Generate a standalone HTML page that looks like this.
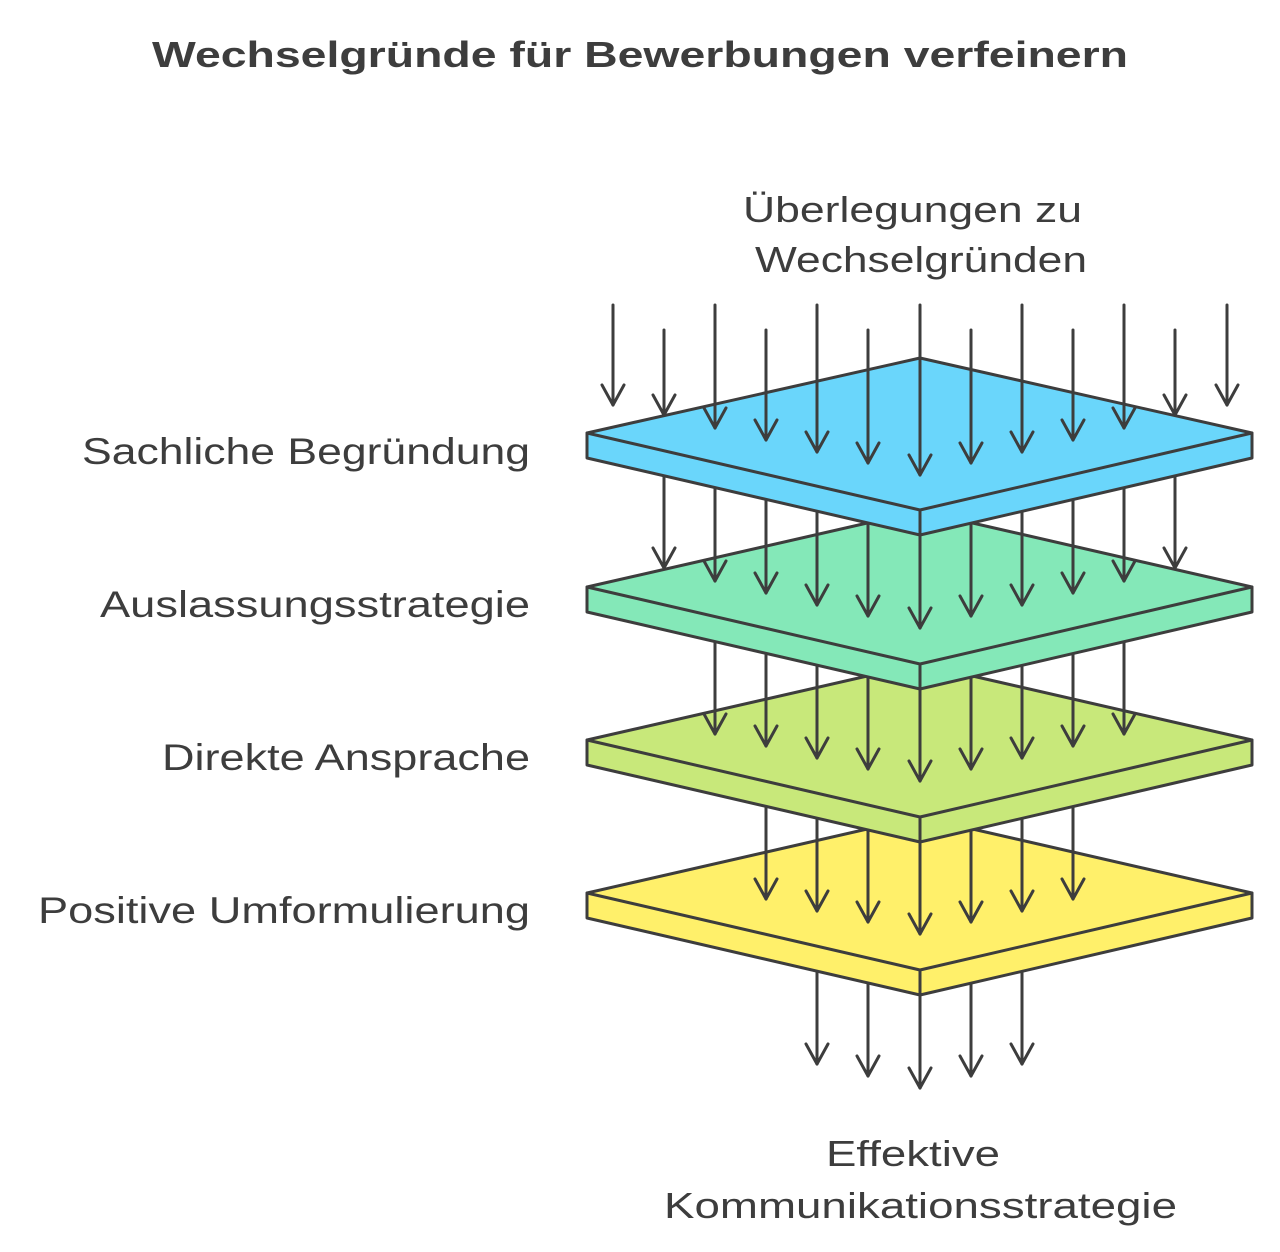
<!DOCTYPE html>
<html><head><meta charset="utf-8"><style>
html,body{margin:0;padding:0;background:#fff;}
svg{display:block;}
text{font-family:"Liberation Sans","DejaVu Sans",sans-serif;fill:#3d3d3d;}
</style></head><body>
<svg width="1280" height="1252" viewBox="0 0 1280 1252" xmlns="http://www.w3.org/2000/svg">
<defs>
<g id="ah"><path d="M-11,-20 L0,0 L11,-20" fill="none" stroke="#3d3d3d" stroke-width="3" stroke-linecap="round" stroke-linejoin="round"/></g>
</defs>
<text x="152" y="67" font-size="36" font-weight="bold" textLength="976" lengthAdjust="spacingAndGlyphs">Wechselgründe für Bewerbungen verfeinern</text>
<text x="743" y="222" font-size="36" textLength="339" lengthAdjust="spacingAndGlyphs">Überlegungen zu</text>
<text x="755" y="272" font-size="36" textLength="332" lengthAdjust="spacingAndGlyphs">Wechselgründen</text>
<text x="826" y="1166" font-size="36" textLength="174" lengthAdjust="spacingAndGlyphs">Effektive</text>
<text x="664" y="1218" font-size="36" textLength="513" lengthAdjust="spacingAndGlyphs">Kommunikationsstrategie</text>
<g font-size="37" lengthAdjust="spacingAndGlyphs">
<text x="82" y="464" textLength="448" lengthAdjust="spacingAndGlyphs">Sachliche Begründung</text>
<text x="100" y="617" textLength="430" lengthAdjust="spacingAndGlyphs">Auslassungsstrategie</text>
<text x="162" y="770" textLength="368" lengthAdjust="spacingAndGlyphs">Direkte Ansprache</text>
<text x="38" y="923" textLength="492" lengthAdjust="spacingAndGlyphs">Positive Umformulierung</text>
</g>
<g id="all" stroke="#3d3d3d" stroke-width="3" stroke-linejoin="round" stroke-linecap="round">
<g fill="none">
<line x1="817" y1="950" x2="817" y2="1064"/><use href="#ah" x="817" y="1064"/>
<line x1="868" y1="950" x2="868" y2="1076"/><use href="#ah" x="868" y="1076"/>
<line x1="920" y1="950" x2="920" y2="1088"/><use href="#ah" x="920" y="1088"/>
<line x1="971" y1="950" x2="971" y2="1076"/><use href="#ah" x="971" y="1076"/>
<line x1="1022" y1="950" x2="1022" y2="1064"/><use href="#ah" x="1022" y="1064"/>
</g>
<path d="M587,893 L920,817 L1252,893 L1252,918 L920,995 L587,918 Z" fill="#fff06a"/>
<path d="M587,893 L920,970 L1252,893 M920,970 L920,995" fill="none"/>
<g fill="none">
<line x1="766" y1="780" x2="766" y2="899"/><use href="#ah" x="766" y="899"/>
<line x1="817" y1="780" x2="817" y2="911"/><use href="#ah" x="817" y="911"/>
<line x1="868" y1="780" x2="868" y2="922"/><use href="#ah" x="868" y="922"/>
<line x1="920" y1="780" x2="920" y2="934"/><use href="#ah" x="920" y="934"/>
<line x1="971" y1="780" x2="971" y2="922"/><use href="#ah" x="971" y="922"/>
<line x1="1022" y1="780" x2="1022" y2="911"/><use href="#ah" x="1022" y="911"/>
<line x1="1073" y1="780" x2="1073" y2="899"/><use href="#ah" x="1073" y="899"/>
</g>
<path d="M587,740 L920,664 L1252,740 L1252,765 L920,842 L587,765 Z" fill="#c8e87a"/>
<path d="M587,740 L920,817 L1252,740 M920,817 L920,842" fill="none"/>
<g fill="none">
<line x1="715" y1="620" x2="715" y2="734"/><use href="#ah" x="715" y="734"/>
<line x1="766" y1="620" x2="766" y2="746"/><use href="#ah" x="766" y="746"/>
<line x1="817" y1="620" x2="817" y2="758"/><use href="#ah" x="817" y="758"/>
<line x1="868" y1="620" x2="868" y2="769"/><use href="#ah" x="868" y="769"/>
<line x1="920" y1="620" x2="920" y2="781"/><use href="#ah" x="920" y="781"/>
<line x1="971" y1="620" x2="971" y2="769"/><use href="#ah" x="971" y="769"/>
<line x1="1022" y1="620" x2="1022" y2="758"/><use href="#ah" x="1022" y="758"/>
<line x1="1073" y1="620" x2="1073" y2="746"/><use href="#ah" x="1073" y="746"/>
<line x1="1124" y1="620" x2="1124" y2="734"/><use href="#ah" x="1124" y="734"/>
</g>
<path d="M587,587 L920,511 L1252,587 L1252,612 L920,689 L587,612 Z" fill="#84e8b8"/>
<path d="M587,587 L920,664 L1252,587 M920,664 L920,689" fill="none"/>
<g fill="none">
<line x1="664" y1="470" x2="664" y2="568"/><use href="#ah" x="664" y="568"/>
<line x1="715" y1="470" x2="715" y2="581"/><use href="#ah" x="715" y="581"/>
<line x1="766" y1="470" x2="766" y2="593"/><use href="#ah" x="766" y="593"/>
<line x1="817" y1="470" x2="817" y2="605"/><use href="#ah" x="817" y="605"/>
<line x1="868" y1="470" x2="868" y2="616"/><use href="#ah" x="868" y="616"/>
<line x1="920" y1="470" x2="920" y2="628"/><use href="#ah" x="920" y="628"/>
<line x1="971" y1="470" x2="971" y2="616"/><use href="#ah" x="971" y="616"/>
<line x1="1022" y1="470" x2="1022" y2="605"/><use href="#ah" x="1022" y="605"/>
<line x1="1073" y1="470" x2="1073" y2="593"/><use href="#ah" x="1073" y="593"/>
<line x1="1124" y1="470" x2="1124" y2="581"/><use href="#ah" x="1124" y="581"/>
<line x1="1175" y1="470" x2="1175" y2="568"/><use href="#ah" x="1175" y="568"/>
</g>
<path d="M587,433 L920,358 L1252,433 L1252,458 L920,535 L587,458 Z" fill="#6ad6fb"/>
<path d="M587,433 L920,510 L1252,433 M920,510 L920,535" fill="none"/>
<g fill="none">
<line x1="613" y1="305" x2="613" y2="405"/><use href="#ah" x="613" y="405"/>
<line x1="664" y1="330" x2="664" y2="415"/><use href="#ah" x="664" y="415"/>
<line x1="715" y1="305" x2="715" y2="428"/><use href="#ah" x="715" y="428"/>
<line x1="766" y1="330" x2="766" y2="440"/><use href="#ah" x="766" y="440"/>
<line x1="817" y1="305" x2="817" y2="452"/><use href="#ah" x="817" y="452"/>
<line x1="868" y1="330" x2="868" y2="463"/><use href="#ah" x="868" y="463"/>
<line x1="920" y1="305" x2="920" y2="475"/><use href="#ah" x="920" y="475"/>
<line x1="971" y1="330" x2="971" y2="463"/><use href="#ah" x="971" y="463"/>
<line x1="1022" y1="305" x2="1022" y2="452"/><use href="#ah" x="1022" y="452"/>
<line x1="1073" y1="330" x2="1073" y2="440"/><use href="#ah" x="1073" y="440"/>
<line x1="1124" y1="305" x2="1124" y2="428"/><use href="#ah" x="1124" y="428"/>
<line x1="1175" y1="330" x2="1175" y2="415"/><use href="#ah" x="1175" y="415"/>
<line x1="1227" y1="305" x2="1227" y2="405"/><use href="#ah" x="1227" y="405"/>
</g>
</g>
</svg>
</body></html>
